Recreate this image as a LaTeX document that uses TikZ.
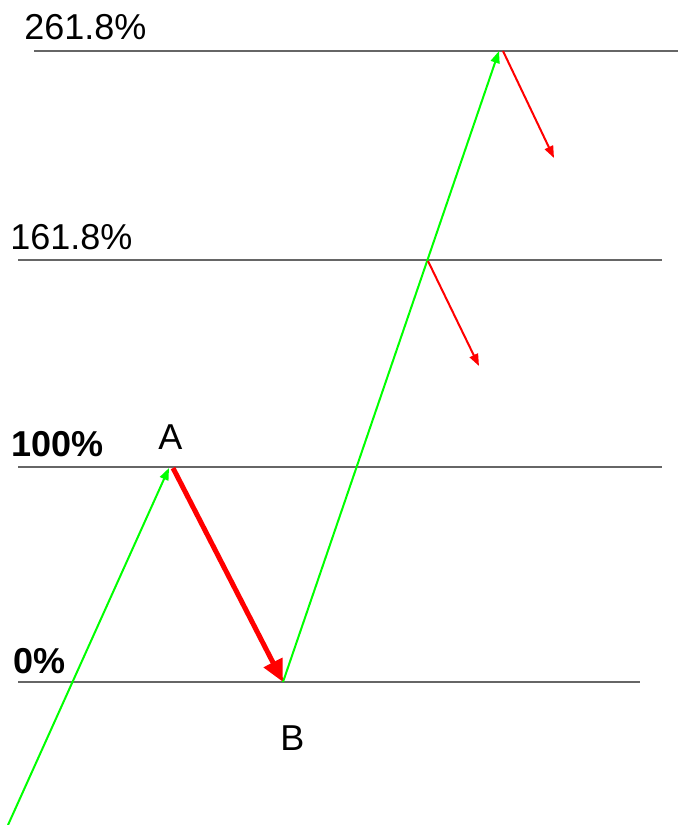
\documentclass[tikz,border=0pt]{standalone}
\usepackage{fontspec}
\setmainfont{Liberation Sans}
\usetikzlibrary{arrows.meta}

\begin{document}
\begin{tikzpicture}[
    x=0.5pt, y=-0.5pt,
    font=\fontsize{18}{21}\selectfont,
    level/.style={draw=black!60, line width=1pt},
    label/.style={inner sep=0pt, anchor=base west},
    up/.style={draw=green, line width=1pt, -{Triangle[length=6pt, width=4.5pt]}},
    down/.style={draw=red, line width=1pt, -{Triangle[length=6pt, width=4.5pt]}},
    bigdown/.style={draw=red, line width=2.5pt, -{Triangle[length=11pt, width=10pt]}}
]
\useasboundingbox (0,0) rectangle (678,825);

% fibonacci levels
\coordinate (l2618w) at (34,51);   \coordinate (l2618e) at (678,51);
\coordinate (l1618w) at (18,260);  \coordinate (l1618e) at (662,260);
\coordinate (l100w)  at (18,467);  \coordinate (l100e)  at (662,467);
\coordinate (l0w)    at (18,682);  \coordinate (l0e)    at (640,682);

\draw[level] (l2618w) -- (l2618e);
\draw[level] (l1618w) -- (l1618e);
\draw[level] (l100w) -- (l100e);
\draw[level] (l0w) -- (l0e);

\node[label] (t2618) at (24,39) {261.8\%};
\node[label] (t1618) at (10,249) {161.8\%};
\node[label, font=\fontsize{18}{21}\selectfont\bfseries] (t100) at (11,456) {100\%};
\node[label, font=\fontsize{18}{21}\selectfont\bfseries] (t0) at (13,673) {0\%};

% swing points
\coordinate (start) at (8,825);
\coordinate (A) at (169,468);
\coordinate (B) at (283,682);
\coordinate (top) at (499,51);
\coordinate (mid) at (428,261);
\coordinate (topend) at (554,158);
\coordinate (midend) at (479,366);

\node[label] (labA) at (158,449) {A};
\node[label] (labB) at (280,750) {B};

\draw[up] (start) -- (A);
\draw[bigdown] ([xshift=2pt]A) -- (B);
\draw[up] (B) -- (top);
\draw[down] ([xshift=2pt]top) -- (topend);
\draw[down] (mid) -- (midend);

\end{tikzpicture}
\end{document}
